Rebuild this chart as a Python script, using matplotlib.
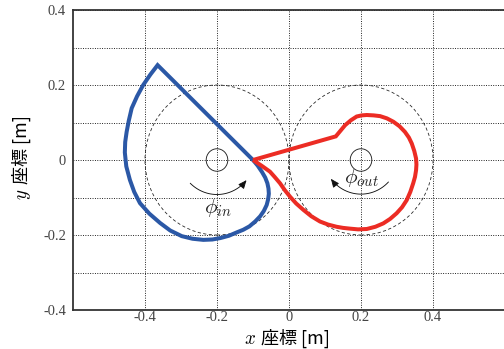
import numpy as np
import matplotlib
matplotlib.use("Agg")
import matplotlib.pyplot as plt
from matplotlib.patches import Circle, FancyArrowPatch
from matplotlib.path import Path

plt.rcParams["mathtext.fontset"] = "cm"

# Driving (input) cam contour [m]
in_x = [-0.100, -0.365, -0.385, -0.405, -0.422, -0.437, -0.445, -0.451, -0.455,
        -0.456, -0.452, -0.442, -0.430, -0.414, -0.388, -0.358, -0.330, -0.298,
        -0.268, -0.238, -0.213, -0.190, -0.167, -0.145, -0.127, -0.110, -0.094,
        -0.080, -0.070, -0.062, -0.058, -0.056, -0.057, -0.060, -0.066, -0.075,
        -0.087, -0.100]
in_y = [0.000, 0.253, 0.228, 0.200, 0.170, 0.138, 0.105, 0.075, 0.048,
        0.020, -0.017, -0.053, -0.085, -0.115, -0.143, -0.168, -0.188, -0.203,
        -0.210, -0.213, -0.212, -0.208, -0.202, -0.193, -0.186, -0.177, -0.164,
        -0.150, -0.136, -0.120, -0.105, -0.090, -0.076, -0.062, -0.047, -0.032,
        -0.015, 0.000]

# Driven (output) cam contour [m]
out_x = [-0.100, 0.130, 0.143, 0.156, 0.172, 0.188, 0.202, 0.216, 0.235, 0.253,
         0.272, 0.290, 0.307, 0.322, 0.333, 0.341, 0.348, 0.353, 0.354, 0.353,
         0.350, 0.345, 0.337, 0.327, 0.314, 0.299, 0.281, 0.262, 0.240, 0.216,
         0.192, 0.169, 0.150, 0.132, 0.108, 0.086, 0.062, 0.040, 0.020, 0.003,
         -0.012, -0.025, -0.040, -0.053, -0.075, -0.100]
out_y = [0.000, 0.063, 0.078, 0.093, 0.106, 0.116, 0.119, 0.120, 0.119, 0.117,
         0.111, 0.102, 0.090, 0.075, 0.060, 0.044, 0.024, 0.004, -0.012, -0.027,
         -0.045, -0.062, -0.085, -0.107, -0.126, -0.142, -0.157, -0.169, -0.178,
         -0.184, -0.185, -0.183, -0.181, -0.178, -0.172, -0.164, -0.150, -0.133,
         -0.116, -0.098, -0.080, -0.062, -0.045, -0.031, -0.016, 0.000]

# Shaft centres, pitch circle and hub radii [m]
shaft_x = [-0.2, 0.2]
shaft_y = [0.0, 0.0]
pitch_r = 0.2
hub_r = 0.03

x_ticks = [-0.4, -0.2, 0.0, 0.2, 0.4]
x_tick_labels = ["-0.4", "-0.2", "0", "0.2", "0.4"]
y_ticks = [-0.4, -0.2, 0.0, 0.2, 0.4]
y_tick_labels = ["-0.4", "-0.2", "0", "0.2", "0.4"]
y_minor_ticks = [-0.3, -0.1, 0.1, 0.3]

BLUE = "#2b58a6"
RED = "#ec2c24"

W, H = 504, 349
fig = plt.figure(figsize=(W / 72, H / 72), dpi=72)
ax = fig.add_axes([73 / W, (H - 310) / H, 432 / W, 300 / H])
ax.set_xlim(-0.6, 0.6)
ax.set_ylim(-0.4, 0.4)

ax.set_xticks(x_ticks, x_tick_labels)
ax.set_yticks(y_ticks, y_tick_labels)
ax.set_yticks(y_minor_ticks, minor=True)
ax.tick_params(which="both", length=0)
ax.tick_params(axis="x", pad=1)
ax.tick_params(axis="y", pad=7)
for lab in ax.get_xticklabels() + ax.get_yticklabels():
    lab.set_fontfamily("Liberation Serif")
    lab.set_fontsize(14.5)
    lab.set_color("#444444")

ax.grid(True, which="major", linestyle=":", linewidth=0.9, color="black")
ax.grid(True, which="minor", axis="y", linestyle=":", linewidth=0.9, color="black")
ax.set_axisbelow(True)
for sp in ax.spines.values():
    sp.set_color("#333333")
    sp.set_linewidth(1.8)

# pitch circles and hubs
for cx, cy in zip(shaft_x, shaft_y):
    ax.add_patch(Circle((cx, cy), pitch_r, fill=False, linestyle=(0, (4, 3)),
                        linewidth=0.8, edgecolor="#222222"))
    ax.add_patch(Circle((cx, cy), hub_r, fill=False, linewidth=0.9,
                        edgecolor="#222222"))


def rotation_arrow(cx, cy, r, a0, a1):
    t = np.radians(np.linspace(a0, a1, 60))
    verts = np.column_stack([cx + r * np.cos(t), cy + r * np.sin(t)])
    arrow = FancyArrowPatch(path=Path(verts),
                            arrowstyle="-|>,head_length=7,head_width=3",
                            linewidth=0.9, color="#111111")
    ax.add_patch(arrow)


rotation_arrow(shaft_x[0], 0.015, 0.107, -134, -40)
rotation_arrow(shaft_x[1], 0.015, 0.106, -44, -142)

ax.plot(in_x, in_y, color=BLUE, linewidth=4, solid_joinstyle="miter",
        solid_capstyle="butt")
ax.plot(out_x, out_y, color=RED, linewidth=4, solid_joinstyle="miter",
        solid_capstyle="butt")

ax.text(-0.197, -0.128, r"$\phi_{in}$", ha="center", va="center",
        fontsize=21, color="#222222")
ax.text(0.200, -0.047, r"$\phi_{out}$", ha="center", va="center",
        fontsize=21, color="#222222")

cjk = ["Noto Sans CJK JP", "DejaVu Sans"]
# x axis title
fig.text(256 / W, 1 - 344 / H, r"$x$", ha="right", va="baseline", fontsize=19)
fig.text(261 / W, 1 - 344 / H, "座標 [m]", ha="left", va="baseline",
         fontsize=18, family=cjk)
# y axis title
fig.text(27 / W, 1 - 189 / H, r"$y$", ha="right", va="baseline", fontsize=19,
         rotation=90, rotation_mode="anchor")
fig.text(27 / W, 1 - 184 / H, "座標 [m]", ha="left", va="baseline",
         fontsize=18, family=cjk, rotation=90, rotation_mode="anchor")

fig.savefig("out.png", dpi=72)
